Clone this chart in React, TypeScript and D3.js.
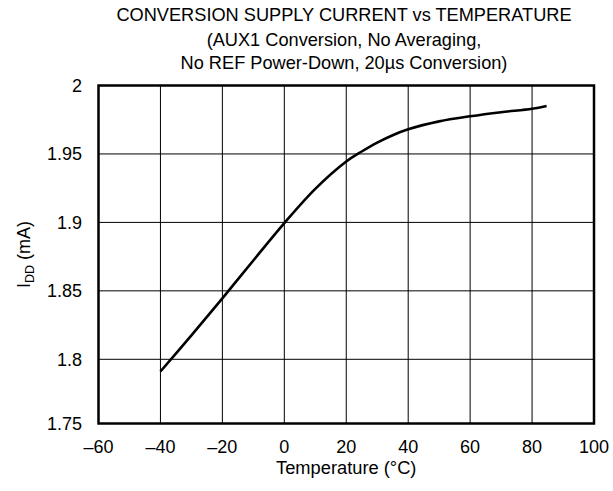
import React from "react";
import * as d3 from "d3";

const titleLines = [
  "CONVERSION SUPPLY CURRENT vs TEMPERATURE",
  "(AUX1 Conversion, No Averaging,",
  "No REF Power-Down, 20µs Conversion)",
];
const xTicks = [-60, -40, -20, 0, 20, 40, 60, 80, 100];
const yTicks = [1.75, 1.8, 1.85, 1.9, 1.95, 2];
const yTickLabels = ["1.75", "1.8", "1.85", "1.9", "1.95", "2"];
const temps = [-40, -30, -20, -10, 0, 10, 20, 25, 30, 35, 40, 50, 60, 70, 80, 84.7];
const idd = [1.7905, 1.8175, 1.8445, 1.8722, 1.8995, 1.9245, 1.9445, 1.9518, 1.9583, 1.9637, 1.968, 1.9738, 1.9775, 1.9805, 1.983, 1.9851];

const FONT = "'Liberation Sans', Arial, Helvetica, sans-serif";

export default function App() {
  const W = 613;
  const H = 491;
  const left = 98.5;
  const right = 594;
  const top = 85.5;
  const bottom = 423.5;

  const x = d3.scaleLinear().domain([-60, 100]).range([left, right]);
  const y = d3.scaleLinear().domain([1.75, 1.8, 2]).range([bottom, 359.3, top]);

  const data = temps.map((t, i) => [t, idd[i]] as [number, number]);
  const line = d3
    .line<[number, number]>()
    .x((d) => x(d[0]))
    .y((d) => y(d[1]))
    .curve(d3.curveCatmullRom.alpha(0.5));

  const fmtX = (v: number) => (v < 0 ? "\u2013" + Math.abs(v) : String(v));

  return (
    <svg
      width={W}
      height={H}
      style={{ position: "absolute", left: 0, top: 0, background: "#fff" }}
      fontFamily={FONT}
    >
      <rect x={0} y={0} width={W} height={H} fill="#fff" />
      {titleLines.map((t, i) => (
        <text key={i} x={344} y={[20.5, 45.5, 69][i]} fontSize={18.2} textAnchor="middle" fill="#000">
          {t}
        </text>
      ))}
      {xTicks.slice(1, -1).map((v) => (
        <line key={"gx" + v} x1={x(v)} x2={x(v)} y1={top} y2={bottom} stroke="#000" strokeWidth={1} />
      ))}
      {yTicks.slice(1, -1).map((v) => (
        <line key={"gy" + v} x1={left} x2={right} y1={y(v)} y2={y(v)} stroke="#000" strokeWidth={1} />
      ))}
      <path d={line(data) || ""} fill="none" stroke="#000" strokeWidth={2.6} strokeLinecap="butt" />
      <rect x={left} y={top} width={right - left} height={bottom - top} fill="none" stroke="#000" strokeWidth={2.5} />
      {yTicks.map((v, i) => (
        <text key={"yl" + v} x={82} y={y(v)} dy="0.36em" fontSize={18} textAnchor="end" fill="#000">
          {yTickLabels[i]}
        </text>
      ))}
      {xTicks.map((v) => (
        <text key={"xl" + v} x={x(v)} y={453} fontSize={18} textAnchor="middle" fill="#000">
          {fmtX(v)}
        </text>
      ))}
      <text x={(left + right) / 2} y={473.5} fontSize={18.3} textAnchor="middle" fill="#000">
        Temperature (°C)
      </text>
      <text transform={`translate(29.5, ${(top + bottom) / 2}) rotate(-90)`} fontSize={18} textAnchor="middle" fill="#000">
        I
        <tspan fontSize={12.5} dy={4}>DD</tspan>
        <tspan dy={-4}> (mA)</tspan>
      </text>
    </svg>
  );
}
